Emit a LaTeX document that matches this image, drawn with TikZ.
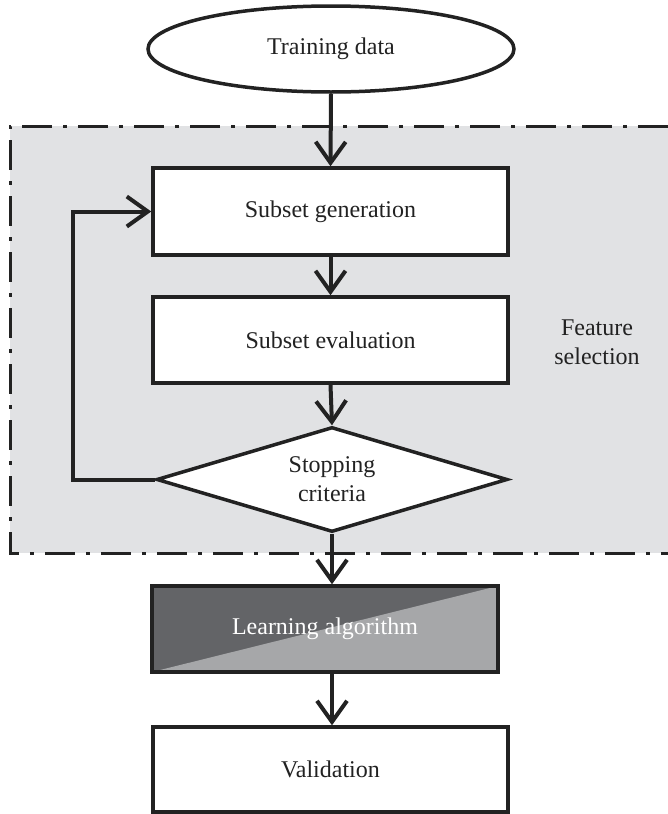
\documentclass[tikz,border=0pt]{standalone}
\usepackage{fontspec}
\setmainfont{Liberation Serif}
\usetikzlibrary{arrows.meta,shapes.geometric}
\definecolor{panelgray}{HTML}{E1E2E4}
\definecolor{darkpart}{HTML}{636467}
\definecolor{lightpart}{HTML}{A6A7A9}
\definecolor{ink}{HTML}{222222}
\tikzset{
  every node/.style={font=\fontsize{24}{29}\selectfont, text=ink, align=center},
  boxed/.style={draw=ink, line width=3.5pt, fill=white, rectangle, inner sep=0pt},
  flow/.style={draw=ink, line width=4pt,
    -{Straight Barb[length=21pt, width=30pt, line width=4pt]}},
  panelborder/.style={draw=ink, line width=3pt,
    dash pattern=on 30pt off 11pt on 4pt off 11pt}
}
\begin{document}
\begin{tikzpicture}[x=1pt, y=-1pt]
  \useasboundingbox (0,0) rectangle (668,814);

  % feature selection panel (open on the right)
  \fill[panelgray] (10,126) rectangle (668,553);
  \draw[panelborder] (668,126) -- (10,126) -- (10,553) -- (668,553);
  \node (fsel) at (597,342) {Feature\\selection};

  % flow elements
  \node[draw=ink, line width=3.5pt, fill=white, ellipse, inner sep=0pt,
        minimum width=366pt, minimum height=86pt] (train) at (331,49) {Training data};
  \node[boxed, minimum width=355pt, minimum height=87pt] (gen) at (330.5,211.5) {Subset generation};
  \node[boxed, minimum width=355pt, minimum height=86pt] (eval) at (330.5,340) {Subset evaluation};
  \node[draw=ink, line width=3.5pt, fill=white, diamond, aspect=3.34, inner sep=0pt,
        minimum width=351pt, minimum height=105pt] (stop) at (332,479.5) {Stopping\\criteria};
  \node[draw=ink, line width=3.5pt, rectangle, inner sep=0pt,
        minimum width=346pt, minimum height=86pt, text=white,
        path picture={
          \fill[darkpart] (path picture bounding box.south west) rectangle (path picture bounding box.north east);
          \fill[lightpart] (path picture bounding box.south west) -- (path picture bounding box.north east)
                           -- (path picture bounding box.south east) -- cycle;
        }] (learn) at (325,629) {Learning algorithm};
  \node[boxed, minimum width=355pt, minimum height=85pt] (valid) at (330.5,769.5) {Validation};

  % connectors
  \draw[flow] (train.south) -- (gen.north);
  \draw[flow] (gen.south) -- (eval.north);
  \draw[flow] (eval.south) -- (stop.north);
  \draw[flow] (stop.west) -- ++(-82,0) |- (gen.west);
  \draw[flow] (stop.south) -- (stop.south |- learn.north);
  \draw[flow] (stop.south |- learn.south) -- (stop.south |- valid.north);
\end{tikzpicture}
\end{document}
